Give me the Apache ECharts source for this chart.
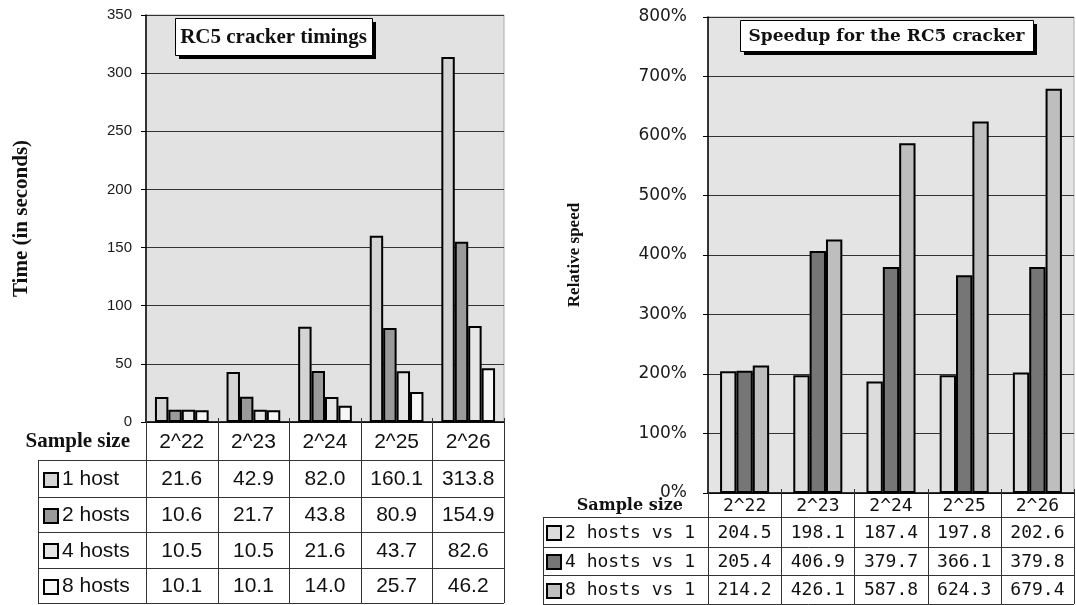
<!DOCTYPE html>
<html><head><meta charset="utf-8">
<script src="https://cdn.jsdelivr.net/npm/echarts@6/dist/echarts.min.js"></script>
<style>html,body{margin:0;padding:0;background:#fff}#c{width:1076px;height:605px}</style>
</head><body><div id="c"></div>
<script>
// ---------- data ----------
const categories = ['2^22', '2^23', '2^24', '2^25', '2^26'];
const timingNames = ['1 host', '2 hosts', '4 hosts', '8 hosts'];
const host1 = [21.6, 42.9, 82.0, 160.1, 313.8];
const host2 = [10.6, 21.7, 43.8, 80.9, 154.9];
const host4 = [10.5, 10.5, 21.6, 43.7, 82.6];
const host8 = [10.1, 10.1, 14.0, 25.7, 46.2];
const speedNames = ['2 hosts vs 1', '4 hosts vs 1', '8 hosts vs 1'];
const speed2 = [204.5, 198.1, 187.4, 197.8, 202.6];
const speed4 = [205.4, 406.9, 379.7, 366.1, 379.8];
const speed8 = [214.2, 426.1, 587.8, 624.3, 679.4];
const timeTicks = [0, 350, 50];     // min, max, interval
const speedTicks = [0, 800, 100];   // min, max, interval (percent)
const leftTitle = 'RC5 cracker timings';
const rightTitle = 'Speedup for the RC5 cracker';
const leftAxisName = 'Time (in seconds)';
const rightAxisName = 'Relative speed';
const rowHeader = 'Sample size';

// ---------- layout / style ----------
const GL = { x: 146, y: 15, w: 358, h: 407 };
const GR = { x: 708, y: 17, w: 366, h: 476 };
const timingColors = ['#d4d4d4', '#9a9a9a', '#e6e6e6', '#f7f7f7'];
const speedColors = ['#dcdcdc', '#767676', '#bebebe'];
const timingSeries = [host1, host2, host4, host8];
const speedSeries = [speed2, speed4, speed8];

const graphics = [];
function line(x1, y1, x2, y2, c, w) {
  graphics.push({ type: 'line', silent: true, z: 10,
    shape: { x1, y1, x2, y2 }, style: { stroke: c || '#333', lineWidth: w || 1 } });
}
function text(str, x, y, font, align, rot) {
  graphics.push({ type: 'text', silent: true, z: 11, x, y, rotation: rot || 0,
    style: { text: str, font, fill: '#111', align: align || 'center', verticalAlign: 'middle' } });
}
function rect(x, y, w, h, fill, stroke, lw) {
  graphics.push({ type: 'rect', silent: true, z: 10, shape: { x, y, width: w, height: h },
    style: { fill, stroke: stroke || null, lineWidth: lw || 0 } });
}

function buildTable(g, rows, boxLeft, names, data, colors, fontHead, fontCell, fontName, headerX, keyX, keySize, nameX) {
  const n = categories.length, colW = g.w / n, bottom = rows[rows.length - 1];
  const top = g.y + g.h;
  for (let i = 0; i <= n; i++) {
    const x = Math.round(g.x + i * colW) + 0.5;
    line(x, top - 4, x, bottom);
  }
  rows.forEach(y => line(boxLeft, y + 0.5, g.x + g.w, y + 0.5));
  line(boxLeft + 0.5, rows[0], boxLeft + 0.5, bottom);
  // header row
  const hy = (top + rows[0]) / 2 + 1;
  text(rowHeader, headerX, hy, fontHead, 'right');
  categories.forEach((c, i) => text(c, g.x + (i + 0.5) * colW, hy, fontCell));
  // data rows
  names.forEach((nm, r) => {
    const cy = (rows[r] + rows[r + 1]) / 2 + 1;
    rect(keyX, Math.round(cy - keySize / 2), keySize, keySize, colors[r], '#000', 2);
    text(nm, nameX, cy, fontName, 'left');
    data[r].forEach((v, i) => text(v.toFixed(1), g.x + (i + 0.5) * colW, cy, fontCell));
  });
}

buildTable(GL, [460, 497, 532, 568, 603], 38, timingNames, timingSeries, timingColors,
  'bold 21px "Liberation Serif", "Times New Roman", serif', '21px "Liberation Sans", Arial, sans-serif',
  '21px "Liberation Sans", Arial, sans-serif', 130, 44, 14, 62);
buildTable(GR, [517, 547, 575, 604], 543, speedNames, speedSeries, speedColors,
  'bold 16px "DejaVu Serif", serif', '18px "DejaVu Sans Mono", monospace',
  '18px "DejaVu Sans Mono", monospace', 683, 547, 14, 565);

// title boxes
function titleBox(str, x, y, w, h, font, off) {
  rect(x + off, y + off, w, h, '#000');
  rect(x + 0.5, y + 0.5, w, h, '#fff', '#000', 1);
  text(str, x + w / 2, y + h / 2 + 1, font);
}
titleBox(leftTitle, 175, 18, 197, 37, 'bold 21px "Liberation Serif", "Times New Roman", serif', 4);
titleBox(rightTitle, 740, 20, 293, 31, 'bold 17px "DejaVu Serif", serif', 4);

// axis names
text(leftAxisName, 22, GL.y + GL.h / 2, 'bold 21px "Liberation Serif", "Times New Roman", serif', 'center', Math.PI / 2);
text(rightAxisName, 575, GR.y + GR.h / 2, 'bold 17px "Liberation Serif", "Times New Roman", serif', 'center', Math.PI / 2);

const chart = echarts.init(document.getElementById('c'), null, { renderer: 'canvas' });

function yAx(gi, t, fmt, font, size, margin) {
  return {
    type: 'value', gridIndex: gi, min: t[0], max: t[1], interval: t[2],
    axisLine: { show: true, lineStyle: { color: '#000', width: 1.5 } },
    axisTick: { show: true, inside: false, length: 5, lineStyle: { color: '#000' } },
    axisLabel: { formatter: fmt, fontFamily: font, fontSize: size, color: '#1a1a1a', margin },
    splitLine: { show: true, lineStyle: { color: '#333', width: 1 } }
  };
}
function xAx(gi) {
  return {
    type: 'category', gridIndex: gi, data: categories, boundaryGap: true,
    axisLine: { show: true, lineStyle: { color: '#000', width: 1.5 } },
    axisTick: { show: false }, axisLabel: { show: false }, splitLine: { show: false }
  };
}

const series = [];
timingSeries.forEach((d, i) => series.push({
  type: 'bar', name: timingNames[i], xAxisIndex: 0, yAxisIndex: 0, data: d,
  barGap: '0%', barCategoryGap: '25%',
  itemStyle: { color: timingColors[i], borderColor: '#000', borderWidth: 2 }
}));
speedSeries.forEach((d, i) => series.push({
  type: 'bar', name: speedNames[i], xAxisIndex: 1, yAxisIndex: 1, data: d,
  barGap: '0%', barCategoryGap: '33%',
  itemStyle: { color: speedColors[i], borderColor: '#000', borderWidth: 2 }
}));

chart.setOption({
  animation: false,
  backgroundColor: '#fff',
  grid: [
    { left: GL.x, top: GL.y, width: GL.w, height: GL.h, show: true, backgroundColor: '#e2e2e2', borderColor: '#aaa', borderWidth: 1 },
    { left: GR.x, top: GR.y, width: GR.w, height: GR.h, show: true, backgroundColor: '#e4e4e4', borderColor: '#aaa', borderWidth: 1 }
  ],
  xAxis: [xAx(0), xAx(1)],
  yAxis: [
    yAx(0, timeTicks, '{value}', '"Liberation Sans", Arial, sans-serif', 15, 14),
    yAx(1, speedTicks, '{value}%', '"DejaVu Sans", sans-serif', 17, 21)
  ],
  series,
  graphic: graphics
});
</script>
</body></html>
